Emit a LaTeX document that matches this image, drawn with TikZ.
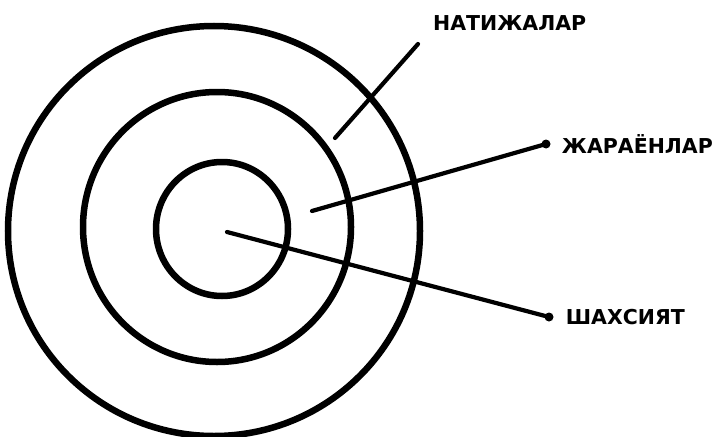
\documentclass[tikz,border=0pt]{standalone}
\usepackage{fontspec}
\setmainfont{DejaVu Sans}
\usetikzlibrary{positioning}

\newcommand*{\picw}{719}
\newcommand*{\pich}{436}

\begin{document}
\begin{tikzpicture}
[
	x=1pt, y=-1pt,
	ring/.style={line width=6.5pt},
	leader/.style={line width=4.2pt, line cap=round},
	enddot/.style={circle,fill,inner sep=0pt,minimum size=9pt},
	lbl/.style={font=\bfseries\fontsize{20.5}{20.5}\selectfont, anchor=west, inner sep=0pt}
]

	\useasboundingbox (0,0) rectangle (\picw,\pich);

	% rings
	\coordinate (outerc) at (214,231);
	\coordinate (midc) at (217,227);
	\coordinate (innerc) at (222,229);
	\draw[ring] (outerc) circle[x radius=206pt, y radius=205pt];
	\draw[ring] (midc) circle[x radius=134pt, y radius=135pt];
	\draw[ring] (innerc) circle[x radius=66pt, y radius=67pt];

	% leader ends
	\coordinate (resin) at (335,138);
	\coordinate (resout) at (418,44);
	\coordinate (procin) at (312,211);
	\node[enddot] (procdot) at (546,144) {};
	\coordinate (persin) at (227,232);
	\node[enddot] (persdot) at (549,317) {};

	% labels
	\node[lbl] (reslbl) at (433,23) {НАТИЖАЛАР};
	\node[lbl, right=11pt of procdot] (proclbl) {ЖАРАЁНЛАР};
	\node[lbl, right=12pt of persdot] (perslbl) {ШАХСИЯТ};

	% leaders
	\draw[leader] (resin) -- (resout);
	\draw[leader] (procin) -- (procdot.center);
	\draw[leader] (persin) -- (persdot.center);

\end{tikzpicture}
\end{document}
